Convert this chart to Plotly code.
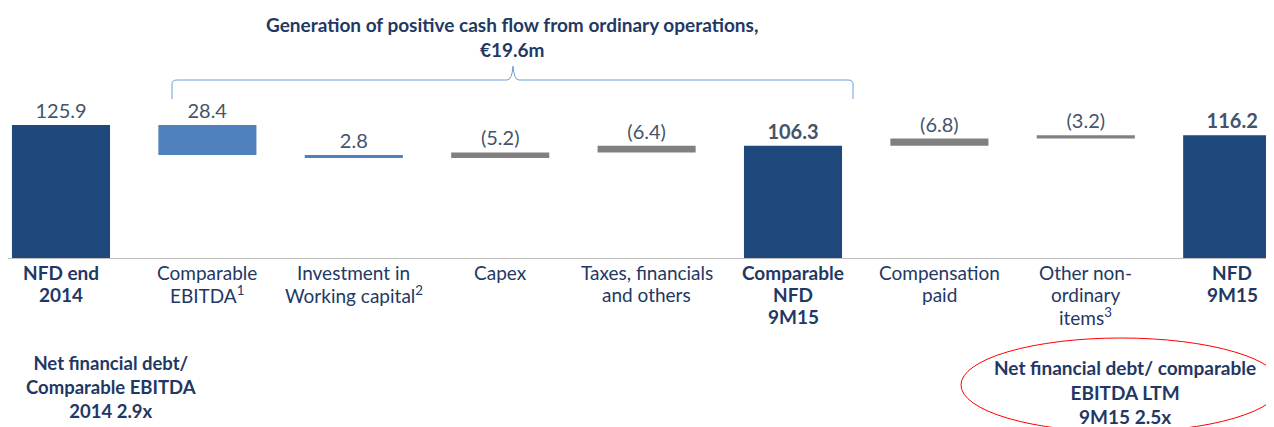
import plotly.graph_objects as go

# ---------------- data ----------------
categories = ["NFD end 2014", "Comparable EBITDA", "Investment in Working capital", "Capex",
              "Taxes, financials and others", "Comparable NFD 9M15", "Compensation paid",
              "Other non-ordinary items", "NFD 9M15"]
tick_labels = ["<b>NFD end<br>2014</b>", "Comparable<br>EBITDA<sup>1</sup>",
               "Investment in<br>Working capital<sup>2</sup>", "Capex",
               "Taxes, financials<br>and others", "<b>Comparable<br>NFD<br>9M15</b>",
               "Compensation<br>paid", "Other non-<br>ordinary<br>items<sup>3</sup>",
               "<b>NFD<br>9M15</b>"]
values = [125.9, -28.4, -2.8, 5.2, 6.4, 106.3, 6.8, 3.2, 116.2]
measures = ["total", "relative", "relative", "relative", "relative", "total", "relative", "relative", "total"]
value_labels = ["125.9", "28.4", "2.8", "(5.2)", "(6.4)", "<b>106.3</b>", "(6.8)", "(3.2)", "<b>116.2</b>"]

# ---------------- styling ----------------
NAVY = "#1F497D"
BLUE = "#4F81BD"
GRAY = "#808080"
TXT = "#1F3864"
VAL = "#44546A"
FONT = "Lato"

OFF = 8                      # default page body margin
W, H = 1274, 427
TOP_S, BASE_S = 80, 258      # plot area top / baseline in screen pixels
M_T = TOP_S - OFF
M_B = H - (BASE_S - OFF)
PLOT_H = BASE_S - TOP_S
PX_PER_UNIT = 1.0564


def px(x):
    return (x - OFF) / W


def py(y):
    return (BASE_S - y) / PLOT_H


# waterfall geometry computed from data
bases, heights, colors = [], [], []
running = 0.0
for v, m in zip(values, measures):
    if m == "total":
        bases.append(0.0)
        heights.append(v)
        colors.append(NAVY)
        running = v
    else:
        new = running + v
        bases.append(min(running, new))
        heights.append(abs(v))
        colors.append(BLUE if v < 0 else GRAY)
        running = new

x_idx = list(range(len(categories)))
SLOT = 146.4
C0 = 61
x_lo = (OFF - C0) / SLOT
x_hi = (OFF + W - C0) / SLOT

fig = go.Figure()
fig.add_trace(go.Bar(
    x=x_idx, y=heights, base=bases,
    marker=dict(color=colors, line=dict(width=0)),
    text=value_labels, textposition="outside",
    textfont=dict(family=FONT, size=20, color=VAL),
    cliponaxis=False, hoverinfo="skip", width=0.67,
))

fig.update_layout(
    width=W, height=H,
    margin=dict(l=0, r=0, t=M_T, b=M_B, pad=0),
    paper_bgcolor="white", plot_bgcolor="white",
    showlegend=False,
    font=dict(family=FONT, color=TXT),
    xaxis=dict(range=[x_lo, x_hi], tickmode="array", tickvals=x_idx, showticklabels=False,
               showgrid=False, zeroline=False, showline=True, linecolor="#BFBFBF", linewidth=1,
               ticks=""),
    yaxis=dict(range=[0, PLOT_H / PX_PER_UNIT], visible=False, showgrid=False, zeroline=False),
)

# category labels: one annotation per line (tighter line spacing, as in the reference)
LINE_1, LINE_STEP = 272, 22
for i, lab in enumerate(tick_labels):
    bold = lab.startswith("<b>")
    inner = lab[3:-4] if bold else lab
    for j, line in enumerate(inner.split("<br>")):
        t = f"<b>{line}</b>" if bold else line
        fig.add_annotation(xref="x", yref="paper", x=i, y=py(LINE_1 + j * LINE_STEP),
                           xanchor="center", yanchor="middle", text=t, showarrow=False,
                           font=dict(family=FONT, size=19, color=TXT))

# title text above brace
fig.add_annotation(xref="paper", yref="paper", x=px(512), y=py(37), xanchor="center", yanchor="middle",
                   text="<b>Generation of positive cash flow from ordinary operations,<br>€19.6m</b>",
                   showarrow=False, font=dict(family=FONT, size=19, color=TXT), align="center")

# curly brace
xl, xr, xm = 172, 853, 513
yb, yh, yt = 99, 80, 66
path = (f"M {px(xl)},{py(yb)} L {px(xl)},{py(yh+4)} Q {px(xl)},{py(yh)} {px(xl+5)},{py(yh)} "
        f"L {px(xm-6)},{py(yh)} Q {px(xm-1)},{py(yh)} {px(xm)},{py(yt)} "
        f"Q {px(xm+1)},{py(yh)} {px(xm+6)},{py(yh)} L {px(xr-5)},{py(yh)} "
        f"Q {px(xr)},{py(yh)} {px(xr)},{py(yh+4)} L {px(xr)},{py(yb)}")
fig.add_shape(type="path", xref="paper", yref="paper", path=path,
              line=dict(color="#6A9FD8", width=1))

# bottom-left note
fig.add_annotation(xref="paper", yref="paper", x=px(111), y=py(387), xanchor="center", yanchor="middle",
                   text="<b>Net financial debt/<br>Comparable EBITDA<br>2014 2.9x</b>",
                   showarrow=False, font=dict(family=FONT, size=18.5, color=TXT), align="center")

# bottom-right note with ellipse
fig.add_shape(type="circle", xref="paper", yref="paper",
              x0=px(961), x1=px(1281), y0=py(338), y1=py(432),
              line=dict(color="#FF0000", width=1))
fig.add_annotation(xref="paper", yref="paper", x=px(1125), y=py(392), xanchor="center", yanchor="middle",
                   text="<b>Net financial debt/ comparable<br>EBITDA LTM<br>9M15 2.5x</b>",
                   showarrow=False, font=dict(family=FONT, size=19, color=TXT), align="center")

fig.write_html("out.html")
